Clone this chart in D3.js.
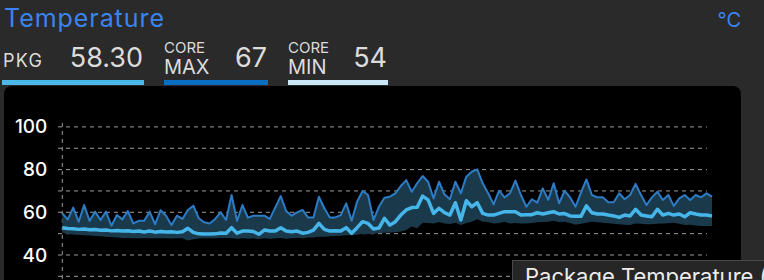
<!DOCTYPE html>
<html>
<head>
<meta charset="utf-8">
<script src="https://cdn.jsdelivr.net/npm/d3@7"></script>
<style>
  body { margin: 0; background: #2a2a2a; overflow: hidden; }
  text { font-family: Inter, "Noto Sans", sans-serif; }
</style>
</head>
<body>
<script>
// temperatura del paquete y de los nucleos, una muestra por punto
let maxVals = [
  59.5, 56.7, 62.2, 55.6, 63.4, 56, 60.3, 56.4, 60.3, 53.7, 58.7, 56.7, 60.6, 54.8, 56, 56, 60.3, 54.4, 61, 58.4,
  54, 58.4, 56.9, 61.1, 63.1, 57.2, 55.3, 54.8, 56.9, 60, 56.4, 68.1, 56, 63.4, 57.5, 58.4, 58.4, 58.4, 56.9, 62.2,
  67.6, 60.6, 58.4, 60, 61.1, 57.6, 57.6, 67.3, 61.9, 57.6, 57.6, 58.7, 64.2, 56, 65, 70, 68.1, 56.4, 62.6, 66.8,
  67.3, 68.9, 72.3, 75.1, 69.6, 73.6, 77, 74.3, 66.5, 74.3, 68.4, 66.1, 74.3, 68.9, 76.7, 79, 80.1, 73.6, 68.9, 63.7,
  70.1, 67, 68.9, 74.8, 68.1, 62.6, 66.1, 64.5, 71.2, 65.8, 73.6, 64.2, 70.1, 67, 62.6, 69.2, 75.4, 68.1, 67, 67,
  64.7, 64.7, 68.9, 66.1, 68.1, 73.3, 68.1, 63.4, 67, 69.6, 65.8, 68.1, 63, 66.5, 68.1, 65.8, 68.1, 67, 68.9, 67.3,
];
let pkgVals = [
  52.8, 52.4, 52.3, 52.0, 52.2, 51.8, 51.9, 51.6, 51.7, 51.3, 51.5, 51.2, 51.4, 51.0, 51.2, 50.8, 51.2, 50.7, 51.0, 50.8,
  50.9, 50.6, 50.9, 52.5, 50.6, 49.9, 49.8, 49.8, 49.9, 50.3, 50.2, 52.8, 50.2, 51.2, 51.2, 51.0, 49.7, 51.7, 51.2, 51.2,
  52.8, 51.2, 50.9, 51.2, 50.2, 50.6, 51.7, 54.8, 52.0, 51.2, 51.4, 51.2, 52.8, 50.2, 52.8, 55.6, 54.8, 52.2, 52.6, 57.2,
  54.0, 55.6, 58.7, 61.1, 62.2, 62.4, 67.6, 65.8, 59.5, 61.9, 59.8, 58.7, 64.5, 56.4, 65.4, 62.6, 64.5, 59.5, 58.7, 58.7,
  59.5, 60.3, 60.3, 60.3, 58.7, 58.9, 58.9, 59.8, 59.2, 59.8, 60.3, 59.2, 59.4, 58.3, 58.1, 58.1, 63, 59.8, 59.2, 59.2,
  58.7, 58.3, 57.6, 58.7, 58.3, 61.4, 58.7, 58.3, 57.9, 61.4, 58.7, 59.5, 58.7, 59.2, 57.9, 59.8, 59.2, 58.7, 58.7, 58.3,
];
let minVals = [
  50.5, 49.8, 49.6, 49.5, 49.3, 49.1, 48.9, 48.8, 48.6, 48.4, 48.2, 48.0, 48.0, 47.9, 47.9, 47.8, 47.9, 47.8, 47.8, 47.8,
  47.7, 47.8, 47.8, 46.8, 47.4, 47.7, 47.8, 47.8, 47.8, 48.0, 48.0, 47.8, 47.6, 47.9, 47.6, 47.8, 47.5, 47.8, 47.6, 47.9,
  48.0, 47.6, 47.8, 48.0, 47.9, 48.2, 48.2, 48.5, 48.6, 48.8, 48.9, 49.0, 49.3, 49.3, 49.6, 49.8, 49.8, 50.0, 50.2, 50.4,
  50.5, 50.6, 51.0, 51.7, 53.3, 52.5, 55.1, 55.0, 54.8, 55.4, 54.8, 54.5, 55.1, 54.0, 55.0, 55.6, 56.7, 55.6, 55.4, 54.8,
  55.0, 55.6, 54.8, 55.0, 54.8, 54.8, 55.0, 55.3, 55.4, 55.6, 56.0, 55.3, 55.6, 55.0, 54.2, 54.6, 55.1, 55.6, 55.3, 55.1,
  54.9, 54.6, 54.4, 54.2, 54.0, 54.8, 54.6, 54.4, 54.4, 54.6, 54.8, 54.9, 55.1, 54.6, 54.0, 54.2, 53.8, 53.6, 53.6, 53.6,
];
let yTicks = [40, 60, 80, 100];
let gridVals = [30, 40, 50, 60, 70, 80, 90, 100];

function graficar() {
  let w = 764;
  let h = 280;

  let svg = d3.select("body").append("svg").attr("width", w).attr("height", h);

  // titulo y unidad
  svg.append("text").text("Temperature")
    .attr("x", 4).attr("y", 27)
    .attr("font-size", 25).attr("textLength", 160).attr("fill", "#3a84f0");
  svg.append("text").text("°C")
    .attr("x", 741).attr("y", 27).attr("text-anchor", "end")
    .attr("font-size", 20).attr("fill", "#3a84f0");

  // valores actuales
  let txt = "#dcdcdc";
  svg.append("text").text("PKG").attr("x", 3).attr("y", 67)
    .attr("font-size", 18).attr("letter-spacing", 1.2).attr("fill", txt);
  svg.append("text").text("58.30").attr("x", 143).attr("y", 67).attr("text-anchor", "end")
    .attr("font-size", 27).attr("fill", txt);
  svg.append("text").text("CORE").attr("x", 164).attr("y", 53)
    .attr("font-size", 15).attr("fill", txt);
  svg.append("text").text("MAX").attr("x", 164).attr("y", 74)
    .attr("font-size", 20).attr("fill", txt);
  svg.append("text").text("67").attr("x", 267).attr("y", 67).attr("text-anchor", "end")
    .attr("font-size", 27).attr("fill", txt);
  svg.append("text").text("CORE").attr("x", 288).attr("y", 53)
    .attr("font-size", 15).attr("fill", txt);
  svg.append("text").text("MIN").attr("x", 288).attr("y", 74)
    .attr("font-size", 20).attr("fill", txt);
  svg.append("text").text("54").attr("x", 387).attr("y", 67).attr("text-anchor", "end")
    .attr("font-size", 27).attr("fill", txt);

  svg.append("rect").attr("x", 2).attr("y", 80).attr("width", 142).attr("height", 5).attr("fill", "#4ab8ea");
  svg.append("rect").attr("x", 164).attr("y", 80).attr("width", 104).attr("height", 5).attr("fill", "#0a6fc2");
  svg.append("rect").attr("x", 288).attr("y", 80).attr("width", 100).attr("height", 5).attr("fill", "#c8e8f8");

  // panel negro
  svg.append("rect").attr("x", 4).attr("y", 86).attr("width", 737).attr("height", 240)
    .attr("rx", 8).attr("fill", "#000");

  let x = d3.scaleLinear().domain([0, maxVals.length - 1]).range([62.3, 712]);
  let y = d3.scaleLinear().domain([40, 100]).range([255, 126.9]);

  // rejilla punteada
  svg.selectAll("line.grid")
    .data(gridVals)
    .enter()
    .append("line")
    .attr("class", "grid")
    .attr("x1", 58).attr("x2", 707)
    .attr("y1", function (d) { return y(d); })
    .attr("y2", function (d) { return y(d); })
    .attr("stroke", "#9a9a9a").attr("stroke-width", 1).attr("stroke-dasharray", "4,4");
  svg.append("line")
    .attr("x1", x(0)).attr("x2", x(0)).attr("y1", y(100) - 4).attr("y2", h)
    .attr("stroke", "#9a9a9a").attr("stroke-width", 1).attr("stroke-dasharray", "4,4");

  let eje = d3.axisLeft(y).tickValues(yTicks).tickSize(0).tickPadding(15);
  let g = svg.append("g").attr("transform", "translate(" + x(0) + ",0)").call(eje);
  g.select(".domain").remove();
  g.selectAll("text")
    .attr("font-family", "Inter, sans-serif")
    .attr("font-size", 19).attr("font-weight", 500).attr("fill", "#fff");

  // banda entre minimo y maximo
  let area = d3.area()
    .x(function (d, i) { return x(i); })
    .y0(function (d, i) { return y(minVals[i]); })
    .y1(function (d) { return y(d); });
  svg.append("path").datum(maxVals).attr("d", area).attr("fill", "#1a3a4b");

  let linea = d3.line()
    .x(function (d, i) { return x(i); })
    .y(function (d) { return y(d); });
  svg.append("path").datum(maxVals).attr("d", linea)
    .attr("fill", "none").attr("stroke", "#2d7cc6").attr("stroke-width", 2)
    .attr("stroke-linejoin", "round");
  svg.append("path").datum(pkgVals).attr("d", linea)
    .attr("fill", "none").attr("stroke", "#46b6ea").attr("stroke-width", 3.5)
    .attr("stroke-linejoin", "round");

  // tooltip
  svg.append("rect").attr("x", 512.5).attr("y", 260.5).attr("width", 300).attr("height", 40)
    .attr("fill", "#262626").attr("stroke", "#4a4a4a");
  svg.append("text").text("Package Temperature (°C)")
    .attr("x", 525).attr("y", 284)
    .attr("font-size", 22).attr("fill", "#ececec");
}

graficar();
</script>
</body>
</html>
